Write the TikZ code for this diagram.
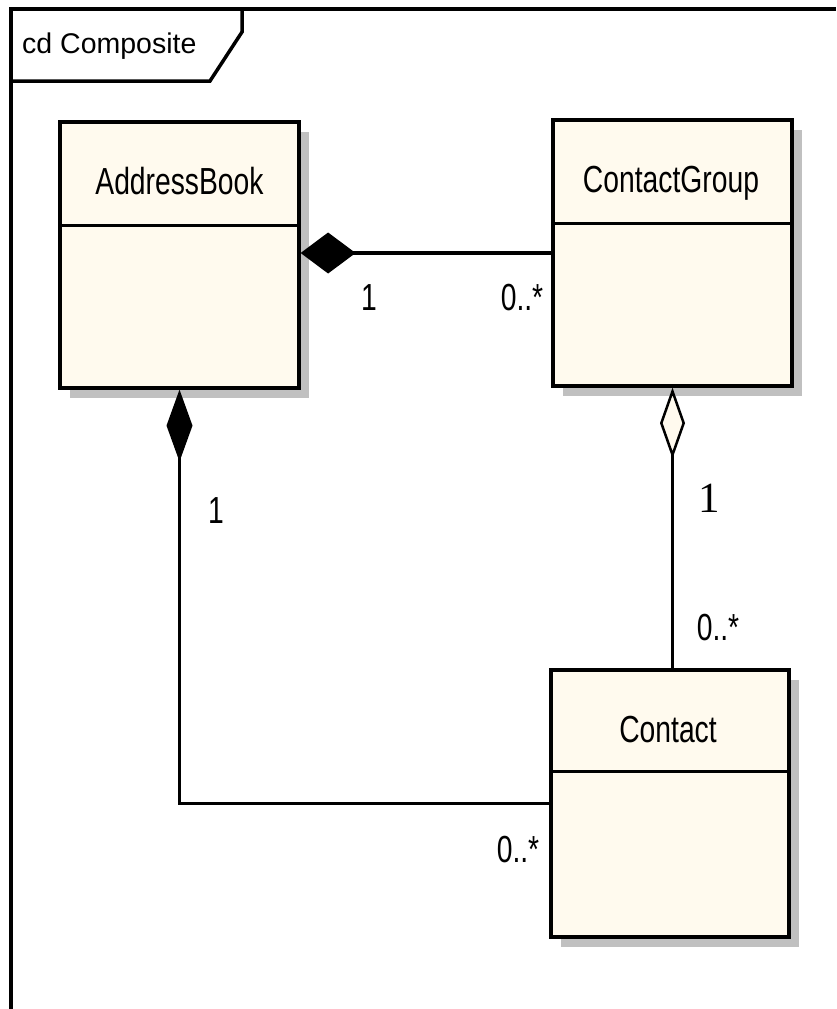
\documentclass[tikz,border=0pt]{standalone}
\usepackage{fontspec}
\setmainfont{Liberation Sans}
\newfontfamily\umlfont[FakeStretch=0.75]{Liberation Sans}
\newfontfamily\framefont{Liberation Sans}
\newfontfamily\onefont{Liberation Serif}
\usetikzlibrary{arrows.meta,shadows}
\definecolor{classfill}{RGB}{255,250,238}
\definecolor{shadowgray}{RGB}{192,192,192}
\begin{document}
\begin{tikzpicture}[x=1pt,y=-1pt,
  classbox/.style={draw=black, line width=3.2pt, fill=classfill, rectangle, inner sep=0pt,
    drop shadow={shadow xshift=9.5pt, shadow yshift=-10pt, fill=shadowgray, opacity=1}},
  divider/.style={line width=3.2pt},
  nametext/.style={anchor=base, inner sep=0pt, font=\umlfont\fontsize{37.7}{40}\selectfont},
  multtext/.style={anchor=base, inner sep=0pt, font=\umlfont\fontsize{37.7}{40}\selectfont},
  serifmult/.style={anchor=base, inner sep=0pt, font=\onefont\fontsize{43}{45}\selectfont},
  titletext/.style={anchor=base west, inner sep=0pt, font=\framefont\fontsize{28.5}{30}\selectfont},
  frameline/.style={line width=3.5pt},
  assoc/.style={line width=3.5pt},
]
\useasboundingbox (0,0) rectangle (836,1009);

% frame
\draw[frameline] (836,9) -- (11,9) -- (11,1009);
\draw[frameline] (11,81) -- (210,81) -- (242,32) -- (242,9);
\node[titletext] (title) at (22,53) {cd Composite};

% classes
\node[classbox, minimum width=239pt, minimum height=266pt] (ab) at (179.5,255) {};
\draw[divider] ([yshift=-105pt]ab.north west) -- ([yshift=-105pt]ab.north east);
\node[nametext] (abname) at (179.5,194) {AddressBook};

\node[classbox, minimum width=239pt, minimum height=266pt] (cg) at (672.5,253) {};
\draw[divider] ([yshift=-105pt]cg.north west) -- ([yshift=-105pt]cg.north east);
\node[nametext] (cgname) at (671,192) {ContactGroup};

\node[classbox, minimum width=238pt, minimum height=267pt] (c) at (670,803.5) {};
\draw[divider] ([yshift=-103pt]c.north west) -- ([yshift=-103pt]c.north east);
\node[nametext] (cname) at (668,742) {Contact};

% connectors
\draw[assoc, {Diamond[length=55pt,width=41pt]}-] (ab.east |- cg.west) -- (cg.west);
\draw[assoc, {Diamond[length=72pt,width=26pt]}-] (ab.south) |- (c.west);
\draw[assoc, {Diamond[fill=classfill,length=71pt,width=25pt,line width=2.5pt]}-] (cg.south) -- (cg.south |- c.north);

% multiplicities
\node[multtext] (m1) at (369,310) {1};
\node[multtext] (m2) at (522,310) {0..*};
\node[multtext] (m3) at (216,523) {1};
\node[serifmult] (m4) at (709,512) {1};
\node[multtext] (m5) at (718,640) {0..*};
\node[multtext] (m6) at (518,862) {0..*};
\end{tikzpicture}
\end{document}
